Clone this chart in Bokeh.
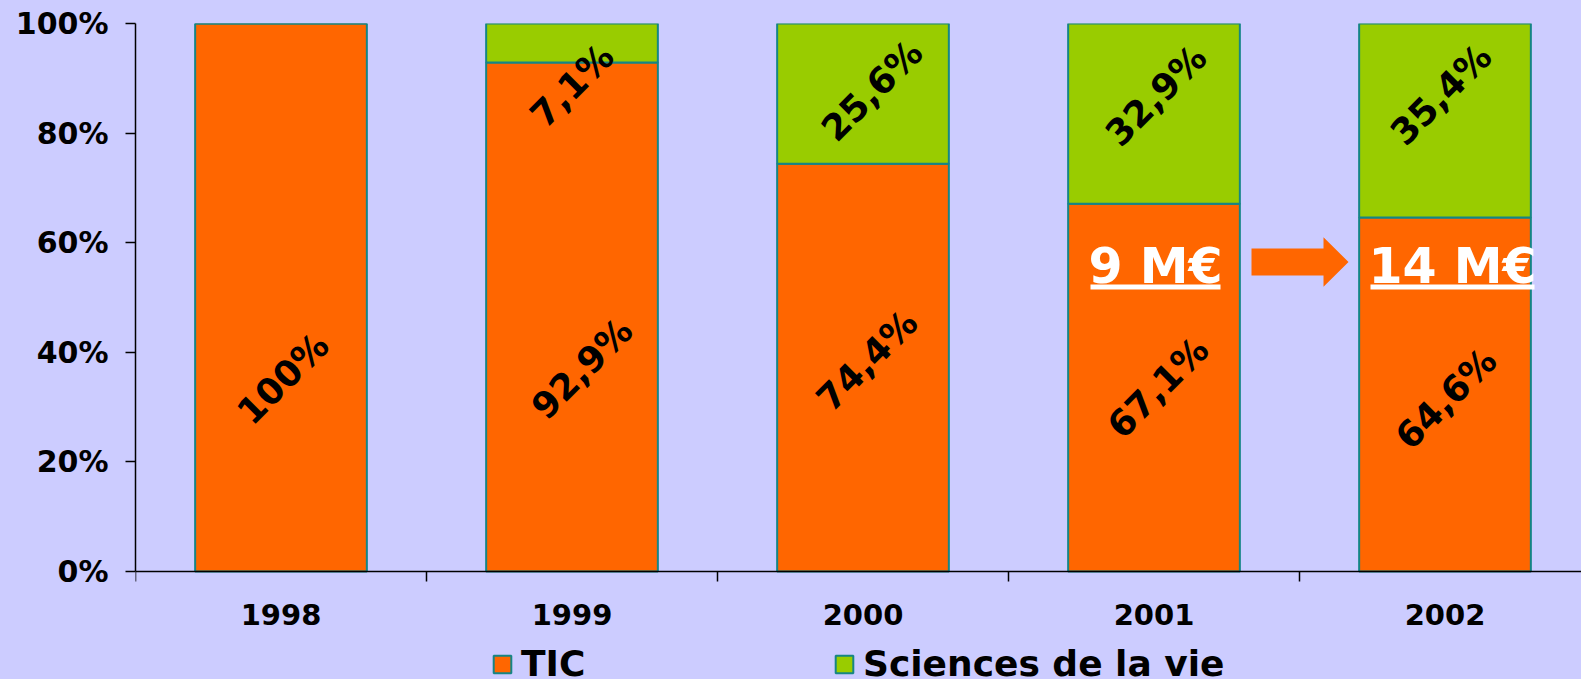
from bokeh.plotting import figure
from bokeh.models import (Range1d, FixedTicker, Legend, LegendItem, ColumnDataSource,
                          GlobalInlineStyleSheet)
from bokeh.core.properties import value
from bokeh.embed import file_html
from bokeh.resources import INLINE

# ---------------- data ----------------
years = ["1998", "1999", "2000", "2001", "2002"]
tic = [100.0, 92.9, 74.4, 67.1, 64.6]
sdv = [0.0, 7.1, 25.6, 32.9, 35.4]
series_names = ["TIC", "Sciences de la vie"]
y_ticks = [0, 20, 40, 60, 80, 100]
y_tick_labels = ["0%", "20%", "40%", "60%", "80%", "100%"]
budget_years = ["2001", "2002"]
budget_labels = ["9 M\u20ac", "14 M\u20ac"]

# ---------------- style / layout ----------------
BG = "#CCCCFF"
ORANGE = "#FF6600"
GREEN = "#99CC00"
TEAL = "#158585"
FONT = "DejaVu Sans"

W, H = 1581, 679
BORDER_L, BORDER_T = 135, 23
CAT_PX = 291.0
PX_100 = 548.0                      # pixels spanned by 0..100 %
FRAME_W = W - BORDER_L
FRAME_H = H - BORDER_T
Y_MIN = 100.0 - FRAME_H / PX_100 * 100.0


def px_x(px):
    return (px - BORDER_L) / CAT_PX


def px_y(py):
    return 100.0 - (py - BORDER_T) / PX_100 * 100.0


# label placement (page pixels of the rotated label centres)
label_py_tic = [378, 368, 360, 387, 398]
label_dx_tic = [2, 10, 4, 4, 1]
label_py_sdv = [None, 85, 90, 95, 94]
label_dx_sdv = [0, 0, 9, 2, -4]
budget_center_px = [1155, 1452]
budget_underline_w_px = [130, 164]
budget_mid_py = 266
budget_underline_py = 284

# ---------------- figure ----------------
p = figure(width=W, height=H, output_backend="svg", toolbar_location=None,
           x_range=Range1d(0, FRAME_W / CAT_PX), y_range=Range1d(Y_MIN, 100),
           min_border_left=BORDER_L, min_border_right=0,
           min_border_top=BORDER_T, min_border_bottom=0,
           background_fill_color=BG, border_fill_color=BG,
           outline_line_color=None)
p.stylesheets = [GlobalInlineStyleSheet(css="html, body { background-color: #CCCCFF; }")]
p.grid.visible = False

xs = [i + 0.5 for i in range(len(years))]
src = ColumnDataSource(dict(x=xs, tic=tic, sdv=sdv))
rs = p.vbar_stack(["tic", "sdv"], x="x", width=0.59, source=src,
                  color=[ORANGE, GREEN], line_color=TEAL, line_width=2)

# axes
xa = p.xaxis[0]
xa.fixed_location = 0
xa.ticker = FixedTicker(ticks=xs, minor_ticks=list(range(len(years) + 1)))
xa.major_label_overrides = {x: y for x, y in zip(xs, years)}
xa.major_tick_out = 0
xa.major_tick_in = 0
xa.minor_tick_out = 10
xa.minor_tick_in = 0
xa.minor_tick_line_color = "black"
xa.minor_tick_line_width = 1.5
xa.axis_line_color = "black"
xa.axis_line_width = 1.5
xa.major_label_text_font = FONT
xa.major_label_text_font_style = "bold"
xa.major_label_text_font_size = "29px"
xa.major_label_text_color = "black"
xa.major_label_standoff = 22

ya = p.yaxis[0]
ya.bounds = (0, 100)
ya.ticker = FixedTicker(ticks=y_ticks, minor_ticks=[])
ya.major_label_overrides = {t: l for t, l in zip(y_ticks, y_tick_labels)}
ya.major_tick_out = 10
ya.major_tick_in = 0
ya.major_tick_line_color = "black"
ya.major_tick_line_width = 1.5
ya.axis_line_color = "black"
ya.axis_line_width = 1.5
ya.major_label_text_font = FONT
ya.major_label_text_font_style = "bold"
ya.major_label_text_font_size = "30px"
ya.major_label_text_color = "black"
ya.major_label_standoff = 17


def fmt(v):
    s = f"{v:.1f}".replace(".", ",")
    if s.endswith(",0"):
        s = s[:-2]
    return s + "%"


# rotated value labels
lx, ly, lt = [], [], []
for i, v in enumerate(tic):
    lx.append(xs[i] + label_dx_tic[i] / CAT_PX)
    ly.append(px_y(label_py_tic[i]))
    lt.append(fmt(v))
for i, v in enumerate(sdv):
    if v > 0:
        lx.append(xs[i] + label_dx_sdv[i] / CAT_PX)
        ly.append(px_y(label_py_sdv[i]))
        lt.append(fmt(v))
p.text(x=lx, y=ly, text=lt, angle=45, angle_units="deg",
       text_font=value(FONT), text_font_style="bold", text_font_size="36px",
       text_align="center", text_baseline="middle", text_color="black")

# budget annotations (white, underlined)
bx = [px_x(c) for c in budget_center_px]
by = [px_y(budget_mid_py)] * 2
p.text(x=bx, y=by, text=budget_labels, text_font=value(FONT),
       text_font_style="bold", text_font_size="49px", text_align="center",
       text_baseline="middle", text_color="white")
p.quad(left=[px_x(c - w / 2) for c, w in zip(budget_center_px, budget_underline_w_px)],
       right=[px_x(c + w / 2) for c, w in zip(budget_center_px, budget_underline_w_px)],
       top=[px_y(budget_underline_py)] * 2, bottom=[px_y(budget_underline_py + 5)] * 2,
       fill_color="white", line_color=None)

# arrow between the two budgets
ax0, axh, axt = px_x(1251), px_x(1323), px_x(1348)
acy = px_y(261.5)
hs = 13.5 / PX_100 * 100
hh = 24.7 / PX_100 * 100
p.patch(x=[ax0, axh, axh, axt, axh, axh, ax0],
        y=[acy + hs, acy + hs, acy + hh, acy, acy - hh, acy - hs, acy - hs],
        fill_color=ORANGE, line_color=None)

# legend at the bottom of the canvas
lg = Legend(items=[LegendItem(label=n, renderers=[r]) for r, n in zip(rs, series_names)],
            location=(491 - BORDER_L, -5),
            orientation="horizontal", background_fill_alpha=0,
            border_line_color=None, padding=0, margin=0, spacing=0,
            glyph_width=22, glyph_height=22, label_standoff=8, label_width=312,
            label_text_font=FONT, label_text_font_style="bold",
            label_text_font_size="36px", label_text_color="black")
p.add_layout(lg)

open("out.html", "w").write(file_html(p, INLINE))
